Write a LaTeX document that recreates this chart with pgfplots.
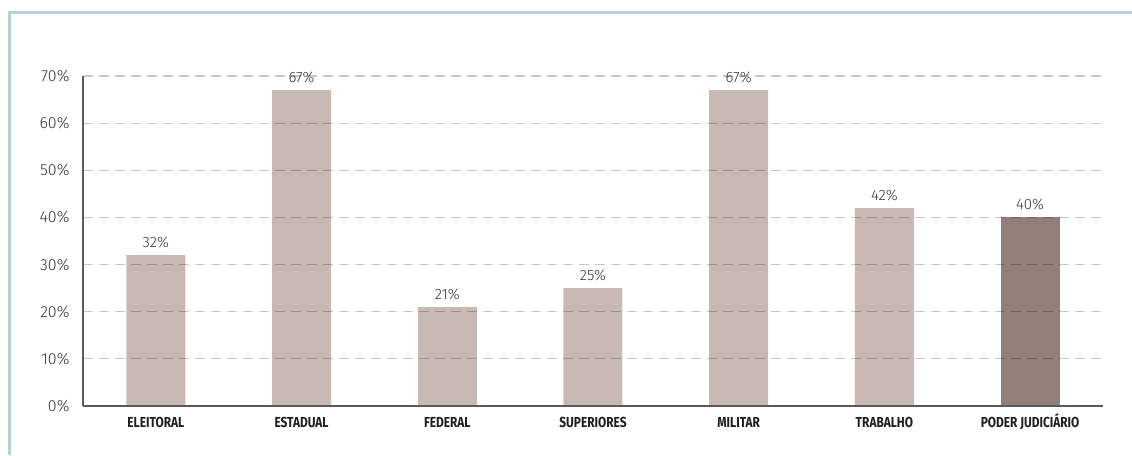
\documentclass[border=0pt]{standalone}
\usepackage{pgfplots}
\pgfplotsset{compat=1.18}
\usepackage{fontspec}
\setmainfont{Fira Sans}[UprightFont={* Light}, BoldFont={* Bold}]
\newfontfamily\condbold{Fira Sans Bold}[FakeStretch=0.82]
\definecolor{framec}{HTML}{B7D2D7}
\definecolor{barlight}{HTML}{C8B9B5}
\definecolor{bardark}{HTML}{927F77}
\definecolor{axisc}{HTML}{5A5A5A}
\pgfplotstableread{
x val
0 32
1 67
2 21
3 25
4 67
5 42
}\lighttab
\pgfplotstableread{
x val
6 40
}\darktab
\begin{document}
\begin{tikzpicture}
\useasboundingbox (0,0) rectangle (1132pt,455pt);
\draw[framec, line width=3pt] (9.5pt,0) -- (9.5pt,442pt) -- (1132pt,442pt);
\begin{axis}[
  at={(83pt,49pt)}, anchor=south west,
  scale only axis, width=1020pt, height=330pt,
  xmin=-0.5, xmax=6.5, ymin=0, ymax=70,
  axis on top,
  axis x line=bottom, axis y line=left,
  axis line style={axisc, line width=2pt, -},
  xtick={0,...,6},
  xticklabels={ELEITORAL,ESTADUAL,FEDERAL,SUPERIORES,MILITAR,TRABALHO,PODER JUDICIÁRIO},
  xticklabel style={font=\condbold\fontsize{14.5}{15}\selectfont, text=black!88, yshift=-8pt, text height=10.3pt, text depth=0pt},
  ytick={0,10,...,70},
  yticklabel={\pgfmathprintnumber{\tick}\%},
  yticklabel style={font=\fontsize{16}{17}\selectfont, text=black!80, xshift=-10pt},
  /pgf/number format/assume math mode=true,
  major tick length=0pt,
  ymajorgrids,
  grid style={black, opacity=0.22, line width=1.2pt, dash pattern=on 10pt off 6pt},
  ybar, bar width=59pt, bar shift=0pt,
  nodes near coords={\pgfmathprintnumber{\pgfplotspointmeta}\%},
  nodes near coords style={font=\fontsize{15}{16}\selectfont, text=black!80, yshift=4pt},
  clip=false,
]
\addplot[fill=barlight, draw=none] table[x=x,y=val]{\lighttab};
\addplot[fill=bardark, draw=none] table[x=x,y=val]{\darktab};
\end{axis}
\end{tikzpicture}
\end{document}
